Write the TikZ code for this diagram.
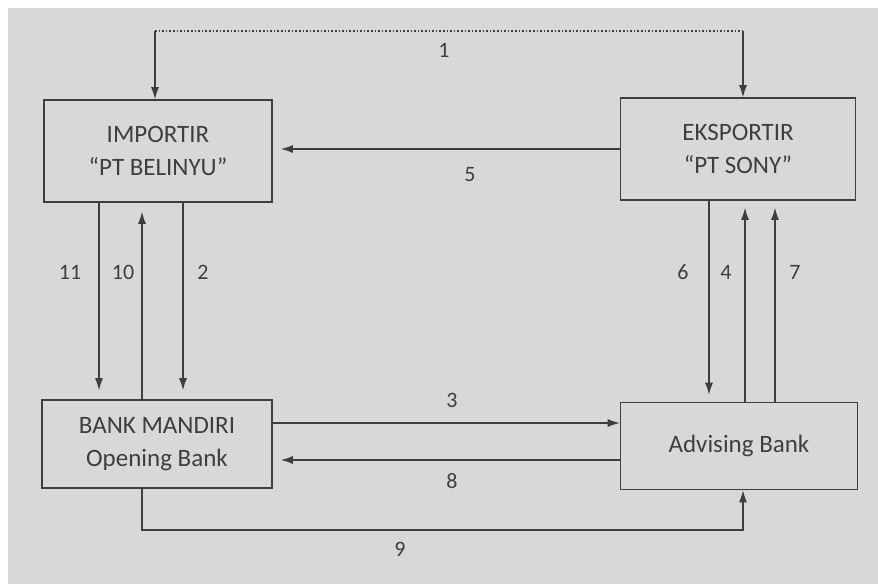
\documentclass[tikz,border=0pt]{standalone}
\usepackage{fontspec}
\setmainfont{Carlito}
\usetikzlibrary{arrows.meta}
\definecolor{PaperGray}{RGB}{216,216,216}
\definecolor{InkGray}{RGB}{62,62,62}
\tikzset{
  BoxStyle/.style = { rectangle, draw = InkGray, line width = 1.6pt,
                      align = center, text = InkGray, inner sep = 0pt,
                      font = \fontsize{25}{33}\selectfont },
  EdgeStyle/.style = { -{Latex[length=12pt,width=8pt]}, draw = InkGray,
                       line width = 1.1pt },
  LabelStyle/.style = { text = InkGray, font = \fontsize{22}{26}\selectfont } }

\begin{document}
\begin{tikzpicture}[x=1pt,y=-1pt]
  % paper
  \useasboundingbox (0,0) rectangle (878,584);
  \fill[white] (0,0) rectangle (878,584);
  \fill[PaperGray] (8,8) rectangle (878,584);

  \node[BoxStyle, minimum width=228pt, minimum height=102pt] (imp) at (158,151) {IMPORTIR\\“PT BELINYU”};
  \node[BoxStyle, minimum width=235pt, minimum height=102pt] (eks) at (738,149) {EKSPORTIR\\“PT SONY”};
  \node[BoxStyle, minimum width=230pt, minimum height=88pt] (man) at (157,444) {BANK MANDIRI\\Opening Bank};
  \node[BoxStyle, minimum width=237pt, minimum height=87pt] (adv) at (739,446) {Advising Bank};

  \coordinate (topL) at (155,31);
  \coordinate (topR) at (743,31);
  \coordinate (low9) at (450,530);
  \coordinate (m3) at ([yshift=21pt]man.east);
  \coordinate (m8) at ([yshift=-16pt]man.east);

  % 1
  \draw[InkGray, line width=1.8pt, dash pattern=on 1.6pt off 2pt] (topL) -- (topR);
  \draw[EdgeStyle] (topL) -- (topL |- imp.north);
  \draw[EdgeStyle] (topR) -- (topR |- eks.north);

  % 5
  \draw[EdgeStyle, shorten >=8pt] (eks.west) -- (eks.west -| imp.east);

  % importir <-> bank mandiri
  \draw[EdgeStyle, shorten >=9pt] ([xshift=-59pt]imp.south) -- ([xshift=-58pt]man.north);
  \draw[EdgeStyle, shorten >=9pt] ([xshift=-15pt]man.north) -- ([xshift=-16pt]imp.south);
  \draw[EdgeStyle, shorten >=9pt] ([xshift=25pt]imp.south) -- ([xshift=26pt]man.north);

  % eksportir <-> advising bank
  \draw[EdgeStyle, shorten >=7pt] ([xshift=-29pt]eks.south) -- ([xshift=-30pt]adv.north);
  \draw[EdgeStyle, shorten >=7pt] ([xshift=6pt]adv.north) -- ([xshift=7pt]eks.south);
  \draw[EdgeStyle, shorten >=7pt] ([xshift=36pt]adv.north) -- ([xshift=37pt]eks.south);

  % banks
  \draw[EdgeStyle] (m3) -- (m3 -| adv.west);
  \draw[EdgeStyle, shorten >=8pt] (m8 -| adv.west) -- (m8);
  \draw[EdgeStyle] ([xshift=-15pt]man.south) |- (low9) -| ([xshift=4pt]adv.south);

  \node[LabelStyle] (l1) at (444,50) {1};
  \node[LabelStyle] (l5) at (470,175) {5};
  \node[LabelStyle] (l11) at (70,272) {11};
  \node[LabelStyle] (l10) at (123,272) {10};
  \node[LabelStyle] (l2) at (203,272) {2};
  \node[LabelStyle] (l6) at (683,272) {6};
  \node[LabelStyle] (l4) at (726,272) {4};
  \node[LabelStyle] (l7) at (795,272) {7};
  \node[LabelStyle] (l3) at (452,400) {3};
  \node[LabelStyle] (l8) at (452,481) {8};
  \node[LabelStyle] (l9) at (400,549) {9};
\end{tikzpicture}
\end{document}
